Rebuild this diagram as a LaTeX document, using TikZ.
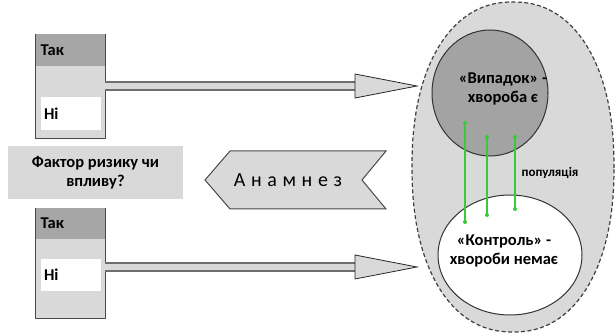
\documentclass[tikz,border=0pt]{standalone}
\usepackage{fontspec}
\setmainfont{Carlito}
\usetikzlibrary{calc,shapes.geometric}
\definecolor{boxgray}{HTML}{D9D9D9}
\definecolor{headgray}{HTML}{A6A6A6}
\definecolor{casegray}{HTML}{A3A3A3}
\definecolor{edgegray}{HTML}{4A4A4A}
\definecolor{linkgreen}{HTML}{3CC83C}
\tikzset{
  answerbox/.style={fill=boxgray, minimum width=69pt, inner sep=0pt},
  frame/.style={draw=edgegray, line width=1.3pt},
  headbar/.style={fill=headgray, minimum height=32pt, text width=60pt, inner xsep=5pt, inner ysep=0pt, align=left, font=\lbl},
  nobar/.style={fill=white, minimum height=33pt, text width=54pt, inner xsep=3pt, inner ysep=0pt, align=left, font=\lbl},
  shaft/.style={line width=1.4pt, draw=edgegray!80, double=boxgray, double distance=6.5pt},
  head/.style={fill=boxgray, draw=black!85, line width=0.8pt, line join=miter},
  greenlink/.style={draw=linkgreen, line width=1.5pt},
}
\newcommand{\lbl}{\bfseries\fontsize{16.5}{19}\selectfont}
\begin{document}
\begin{tikzpicture}[x=1pt, y=-1pt, line join=round]
\useasboundingbox (0,0) rectangle (616,336);
% population
\draw[fill=boxgray, draw=black!75, line width=1.2pt, dash pattern=on 4pt off 2.5pt]
  plot[domain=0.5:358, samples=144] ({513+101*sign(cos(\x))*abs(cos(\x))^(0.9)}, {167+165*sign(sin(\x))*abs(sin(\x))^(0.9)}) -- cycle;
\node[ellipse, draw=black!80, line width=1pt, fill=casegray, minimum width=116pt, minimum height=126pt, inner sep=0pt] (case) at (490,93) {};
\node[ellipse, draw=black!80, line width=1pt, fill=white, minimum width=144pt, minimum height=120pt, inner sep=0pt] (ctrl) at (510,255) {};
\node[font=\lbl, align=center, inner sep=0pt] (casetxt) at (503,89) {«Випадок» -\\хвороба є};
\node[font=\lbl, align=center, inner sep=0pt] (ctrltxt) at (504,251) {«Контроль» -\\хвороби немає};
\node[font=\bfseries\fontsize{13}{16}\selectfont, inner sep=0pt] (poptxt) at (550,173) {популяція};
\foreach \i/\x/\ya/\yb in {1/465/123/222, 2/487/137/215, 3/515/137/209}{
  \coordinate (up\i) at (\x,\ya);
  \coordinate (dn\i) at (\x,\yb);
  \draw[greenlink] (up\i) -- (dn\i);
  \fill[linkgreen] (up\i) circle(2pt) (dn\i) circle(2pt);
}
% answer boxes
\node[answerbox, minimum height=104pt] (box1) at (70.5,86) {};
\node[headbar, anchor=north] (tak1) at (box1.north) {Так};
\node[nobar] (ni1) at (71,113.5) {Ні};
\draw[frame] (box1.north west) -- (box1.south west) -- (box1.south east) -- (box1.north east);
\node[answerbox, minimum height=110pt] (box2) at (70.5,263) {};
\node[headbar, minimum height=31pt, anchor=north] (tak2) at (box2.north) {Так};
\node[nobar, minimum height=32pt] (ni2) at (71,275) {Ні};
\draw[frame] (box2.north west) -- (box2.south west) -- (box2.south east) -- (box2.north east);
\node[fill=boxgray, minimum width=175pt, minimum height=53pt, align=center, font=\lbl, inner sep=0pt] (factor) at (95.5,172.5) {Фактор ризику чи\\впливу?};
% anamnesis
\draw[fill=boxgray, draw=edgegray, line width=1pt, line join=miter] (205,180) -- (230,151) -- (386,151) -- (362,180) -- (386,209) -- (230,209) -- cycle;
\node[font=\fontsize{20}{22}\selectfont\addfontfeature{LetterSpace=28}, inner sep=0pt] (anam) at (288,180) {Анамнез};
% arrows
\coordinate (tip1) at (417,86);
\coordinate (tip2) at (417,267);
\foreach \t/\b in {tip1/box1, tip2/box2}{
  \draw[shaft] (\b.east |- \t) -- ($(\t)+(-61,0)$);
  \filldraw[head] ($(\t)+(-62,-12)$) -- (\t) -- ($(\t)+(-62,12)$) -- cycle;
}
\end{tikzpicture}
\end{document}
